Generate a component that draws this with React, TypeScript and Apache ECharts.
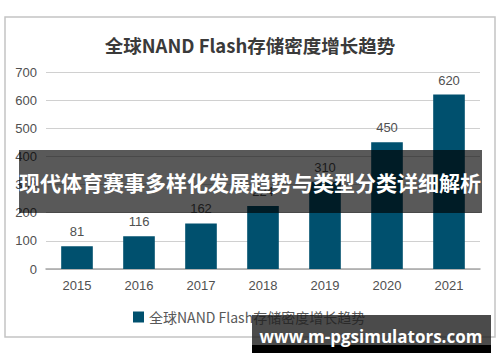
import React, { useEffect, useRef } from "react";
import * as echarts from "echarts";

const title = "全球NAND Flash存储密度增长趋势";
const seriesName = "全球NAND Flash存储密度增长趋势";
const years = ["2015", "2016", "2017", "2018", "2019", "2020", "2021"];
const values = [81, 116, 162, 224, 310, 450, 620];
const bannerText = "现代体育赛事多样化发展趋势与类型分类详细解析";
const watermarkText = "www.m-pgsimulators.com";

export default function App() {
  const ref = useRef<HTMLDivElement>(null);
  useEffect(() => {
    if (!ref.current) return;
    const chart = echarts.init(ref.current, null, { renderer: "svg" });
    chart.setOption({
      animation: false,
      backgroundColor: "#ffffff",
      title: {
        text: title,
        left: "center",
        top: 31,
        textStyle: {
          fontFamily: "Noto Sans CJK SC",
          fontSize: 18.5,
          fontWeight: "bold",
          color: "#3a3a3a",
        },
      },
      legend: {
        bottom: 33,
        left: 128,
        itemWidth: 11,
        itemHeight: 11,
        itemGap: 4,
        icon: "rect",
        textStyle: {
          fontFamily: "Noto Sans CJK SC",
          fontSize: 14,
          color: "#595959",
        },
        data: [seriesName],
      },
      grid: { left: 46, right: 20, top: 72, bottom: 93 },
      xAxis: {
        type: "category",
        data: years,
        axisLine: { show: true, lineStyle: { color: "#a6a6a6", width: 1.5 } },
        axisTick: { show: false },
        axisLabel: {
          margin: 10,
          fontFamily: "Liberation Sans",
          fontSize: 13,
          color: "#505050",
        },
      },
      yAxis: {
        type: "value",
        min: 0,
        max: 700,
        interval: 100,
        axisLine: { show: false },
        axisTick: { show: false },
        splitLine: { lineStyle: { color: "#d0d0d0", width: 1 } },
        axisLabel: {
          margin: 9,
          fontFamily: "Liberation Sans",
          fontSize: 13,
          color: "#505050",
        },
      },
      series: [
        {
          name: seriesName,
          type: "bar",
          data: values,
          barWidth: "51%",
          itemStyle: { color: "#00506e" },
          label: {
            show: true,
            position: "top",
            distance: 8,
            fontFamily: "Liberation Sans",
            fontSize: 13,
            color: "#505050",
          },
        },
      ],
      graphic: [
        {
          type: "rect",
          z: -10,
          silent: true,
          shape: { x: 5, y: 17, width: 490, height: 320 },
          style: { fill: "none", stroke: "#c4c4c4", lineWidth: 1.5 },
        },
        {
          type: "rect",
          z: 100,
          silent: true,
          shape: { x: 19, y: 150, width: 463, height: 63 },
          style: { fill: "rgba(0,0,0,0.65)" },
        },
        {
          type: "text",
          z: 101,
          silent: true,
          x: 250,
          y: 182,
          style: {
            text: bannerText,
            align: "center",
            verticalAlign: "middle",
            fill: "#ffffff",
            fontFamily: "Noto Sans CJK SC",
            fontSize: 21,
            fontWeight: "bold",
          },
        },
        {
          type: "rect",
          z: 100,
          silent: true,
          shape: { x: 252, y: 315, width: 239, height: 30 },
          style: { fill: "rgba(30,30,30,0.8)" },
        },
        {
          type: "rect",
          z: 100,
          silent: true,
          shape: { x: 252, y: 345, width: 239, height: 8 },
          style: { fill: "#000000" },
        },
        {
          type: "text",
          z: 101,
          silent: true,
          x: 371,
          y: 336,
          style: {
            text: watermarkText,
            align: "center",
            verticalAlign: "middle",
            fill: "#ffffff",
            fontFamily: "Open Sans",
            fontSize: 17,
            fontWeight: "bold",
          },
        },
      ],
    });
    return () => chart.dispose();
  }, []);
  return (
    <div
      ref={ref}
      style={{ position: "fixed", left: 0, top: 0, width: 500, height: 362 }}
    />
  );
}
